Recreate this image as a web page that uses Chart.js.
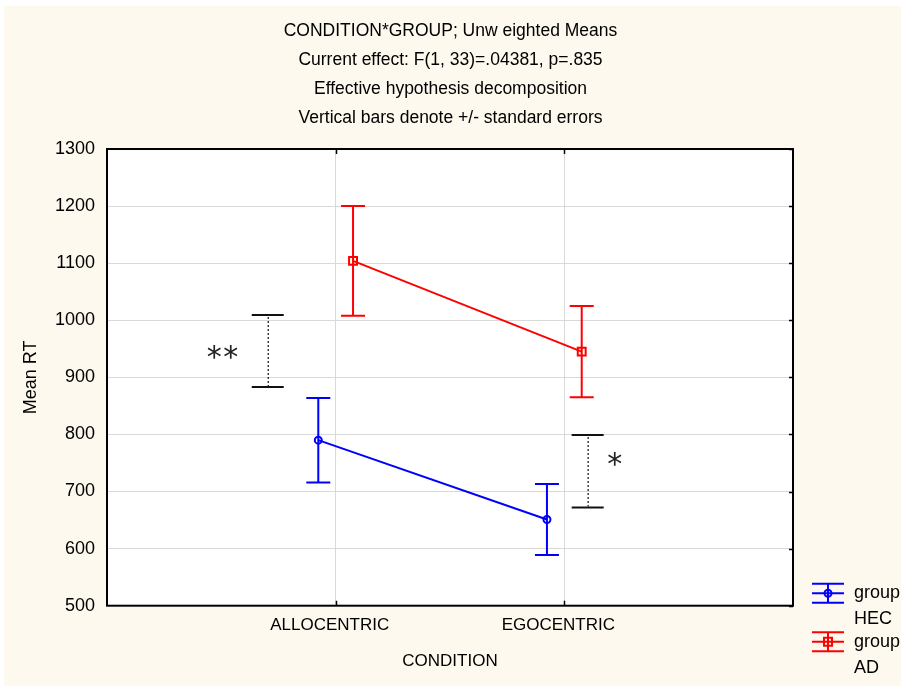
<!DOCTYPE html>
<html>
<head>
<meta charset="utf-8">
<script src="https://cdn.jsdelivr.net/npm/chart.js@4.4.0/dist/chart.umd.min.js"></script>
<style>
  html, body { margin: 0; padding: 0; background: #fff; }
  canvas { display: block; }
</style>
</head>
<body>
<canvas id="chart" width="901" height="687"></canvas>
<script>
// data
const conditions = ['ALLOCENTRIC', 'EGOCENTRIC'];
const groupNames = ['HEC', 'AD'];
const hecMeans = [790, 651];
const hecSE = [74, 62];
const adMeans = [1104, 945];
const adSE = [96, 80];
const sigLow = [883, 672];
const sigHigh = [1009, 799];
const sigStars = ['**', '*'];
const titleLines = [
  'CONDITION*GROUP; Unw eighted Means',
  'Current effect: F(1, 33)=.04381, p=.835',
  'Effective hypothesis decomposition',
  'Vertical bars denote +/- standard errors'
];

const FONT = 'Liberation Sans, Arial, sans-serif';
const GROUP_OFFSET = 0.076;
const CAP = 12;

Chart.defaults.color = '#000';
Chart.defaults.font.family = FONT;

const backgroundPlugin = {
  id: 'background',
  beforeDraw(chart) {
    const { ctx, chartArea } = chart;
    ctx.save();
    ctx.fillStyle = '#ffffff';
    ctx.fillRect(0, 0, chart.width, chart.height);
    ctx.fillStyle = '#fdf9ee';
    ctx.fillRect(4, 6, chart.width - 4, chart.height - 7);
    ctx.fillStyle = '#ffffff';
    ctx.fillRect(chartArea.left, chartArea.top, chartArea.right - chartArea.left, chartArea.bottom - chartArea.top);
    ctx.restore();
  }
};

// vertical +/- SE bars for each point
const errorBarPlugin = {
  id: 'errorBars',
  beforeDatasetsDraw(chart) {
    const { ctx, scales: { x, y } } = chart;
    chart.data.datasets.forEach((ds) => {
      ctx.save();
      ctx.strokeStyle = ds.borderColor;
      ctx.lineWidth = 2;
      ds.data.forEach((pt, i) => {
        const px = x.getPixelForValue(pt.x);
        const top = y.getPixelForValue(pt.y + ds.errors[i]);
        const bot = y.getPixelForValue(pt.y - ds.errors[i]);
        ctx.beginPath();
        ctx.moveTo(px, top); ctx.lineTo(px, bot);
        ctx.moveTo(px - CAP, top); ctx.lineTo(px + CAP, top);
        ctx.moveTo(px - CAP, bot); ctx.lineTo(px + CAP, bot);
        ctx.stroke();
      });
      ctx.restore();
    });
  }
};

// significance brackets with stars
const sigPlugin = {
  id: 'sig',
  afterDatasetsDraw(chart, args, opts) {
    const { ctx, scales: { x, y } } = chart;
    ctx.save();
    sigStars.forEach((stars, i) => {
      const pos = opts.places[i];
      const px = x.getPixelForValue(i + 1 + pos.dx);
      const top = y.getPixelForValue(sigHigh[i]);
      const bot = y.getPixelForValue(sigLow[i]);
      ctx.strokeStyle = '#111';
      ctx.lineWidth = 2;
      ctx.setLineDash([]);
      ctx.beginPath();
      ctx.moveTo(px - 16, top); ctx.lineTo(px + 16, top);
      ctx.moveTo(px - 16, bot); ctx.lineTo(px + 16, bot);
      ctx.stroke();
      ctx.lineWidth = 1.2;
      ctx.setLineDash([2, 2]);
      ctx.beginPath();
      ctx.moveTo(px + 0.5, top + 2); ctx.lineTo(px + 0.5, bot - 1);
      ctx.stroke();
      ctx.setLineDash([]);

      ctx.fillStyle = '#222';
      ctx.font = '30px "DejaVu Sans"';
      ctx.textAlign = 'center';
      ctx.textBaseline = 'alphabetic';
      const m = ctx.measureText('*');
      const cx = x.getPixelForValue(i + 1 + pos.starDx);
      const cy = y.getPixelForValue(pos.starY);
      const base = cy + (m.actualBoundingBoxAscent - m.actualBoundingBoxDescent) / 2;
      const n = stars.length;
      for (let k = 0; k < n; k++) {
        ctx.fillText('*', cx + (k - (n - 1) / 2) * 16.7, base);
      }
    });
    ctx.restore();
  }
};

// plot frame and inward tick marks
const framePlugin = {
  id: 'frame',
  afterDraw(chart) {
    const { ctx, chartArea: a, scales: { x, y } } = chart;
    ctx.save();
    ctx.strokeStyle = '#000';
    ctx.lineWidth = 2;
    ctx.strokeRect(a.left, a.top, a.right - a.left, a.bottom - a.top);
    ctx.lineWidth = 1.5;
    ctx.beginPath();
    y.ticks.forEach((t) => {
      const py = Math.round(y.getPixelForValue(t.value)) + 0.5;
      ctx.moveTo(a.right - 4, py); ctx.lineTo(a.right, py);
    });
    x.ticks.forEach((t) => {
      const px = Math.round(x.getPixelForValue(t.value)) + 0.5;
      ctx.moveTo(px, a.bottom); ctx.lineTo(px, a.bottom - 5);
      ctx.moveTo(px, a.top); ctx.lineTo(px, a.top + 5);
    });
    ctx.stroke();
    ctx.restore();
  }
};

// legend drawn to the right of the plot
const legendPlugin = {
  id: 'sideLegend',
  afterDraw(chart) {
    const { ctx, chartArea: a } = chart;
    ctx.save();
    chart.data.datasets.forEach((ds, i) => {
      const cy = a.bottom - 12.4 + i * 48.5;
      const x0 = a.right + 19, x1 = a.right + 51, cx = (x0 + x1) / 2;
      ctx.strokeStyle = ds.borderColor;
      ctx.lineWidth = 2;
      ctx.beginPath();
      [-9.5, 0, 9.5].forEach((d) => { ctx.moveTo(x0, cy + d); ctx.lineTo(x1, cy + d); });
      ctx.moveTo(cx, cy - 9.5); ctx.lineTo(cx, cy + 9.5);
      ctx.stroke();
      ctx.beginPath();
      if (ds.pointStyle === 'circle') {
        ctx.arc(cx, cy, 3.5, 0, Math.PI * 2);
      } else {
        ctx.rect(cx - 4, cy - 4, 8, 8);
      }
      ctx.stroke();
      ctx.fillStyle = '#000';
      ctx.font = '18px ' + FONT;
      ctx.textAlign = 'left';
      ctx.textBaseline = 'middle';
      ctx.fillText('group', a.right + 61, cy);
      ctx.fillText(groupNames[i], a.right + 61, cy + 26);
    });
    ctx.restore();
  }
};

const ctx = document.getElementById('chart').getContext('2d');
new Chart(ctx, {
  type: 'line',
  data: {
    datasets: [
      {
        label: 'group HEC',
        data: hecMeans.map((v, i) => ({ x: i + 1 - GROUP_OFFSET, y: v })),
        errors: hecSE,
        borderColor: '#0000ff',
        borderWidth: 2,
        pointStyle: 'circle',
        pointRadius: 3.5,
        pointBorderWidth: 2,
        pointBackgroundColor: 'rgba(0,0,0,0)',
        pointBorderColor: '#0000ff',
        tension: 0
      },
      {
        label: 'group AD',
        data: adMeans.map((v, i) => ({ x: i + 1 + GROUP_OFFSET, y: v })),
        errors: adSE,
        borderColor: '#ff0000',
        borderWidth: 2,
        pointStyle: 'rect',
        pointRadius: 5.6,
        pointBorderWidth: 2,
        pointBackgroundColor: 'rgba(0,0,0,0)',
        pointBorderColor: '#ff0000',
        tension: 0
      }
    ]
  },
  options: {
    responsive: false,
    animation: false,
    layout: { padding: 0 },
    plugins: {
      legend: { display: false },
      tooltip: { enabled: false },
      title: {
        display: true,
        text: titleLines,
        color: '#000',
        font: { family: FONT, size: 17.5, weight: 'normal', lineHeight: 29 / 17.5 },
        padding: { top: 17, bottom: 16 }
      },
      sig: {
        places: [
          { dx: -0.297, starDx: -0.495, starY: 945 },
          { dx: 0.102, starDx: 0.221, starY: 757 }
        ]
      }
    },
    scales: {
      x: {
        type: 'linear',
        min: 0,
        max: 3,
        afterBuildTicks: (s) => { s.ticks = conditions.map((c, i) => ({ value: i + 1 })); },
        afterFit: (s) => { s.height = 81.3; },
        ticks: {
          callback: (v) => conditions[v - 1],
          autoSkip: false,
          maxRotation: 0,
          padding: 9,
          labelOffset: -6,
          color: '#000',
          font: { family: FONT, size: 17 }
        },
        grid: { color: '#d9d9d9', lineWidth: 1, drawTicks: false },
        border: { display: false },
        title: {
          display: true,
          text: 'CONDITION',
          color: '#000',
          font: { family: FONT, size: 17 },
          padding: { top: 0, bottom: 15 }
        }
      },
      y: {
        min: 500,
        max: 1300,
        afterFit: (s) => { s.width = 107; },
        ticks: {
          stepSize: 100,
          padding: 12,
          color: '#000',
          font: { family: FONT, size: 18 },
          callback: (v) => String(v)
        },
        grid: { color: '#d9d9d9', lineWidth: 1, drawTicks: false },
        border: { display: false },
        title: {
          display: true,
          text: 'Mean RT',
          color: '#000',
          font: { family: FONT, size: 18 },
          padding: { top: 20, bottom: 0 }
        }
      },
      y2: {
        position: 'right',
        min: 500,
        max: 1300,
        afterFit: (s) => { s.width = 108; },
        ticks: { display: false },
        grid: { display: false },
        border: { display: false }
      }
    }
  },
  plugins: [backgroundPlugin, errorBarPlugin, sigPlugin, framePlugin, legendPlugin]
});
</script>
</body>
</html>
